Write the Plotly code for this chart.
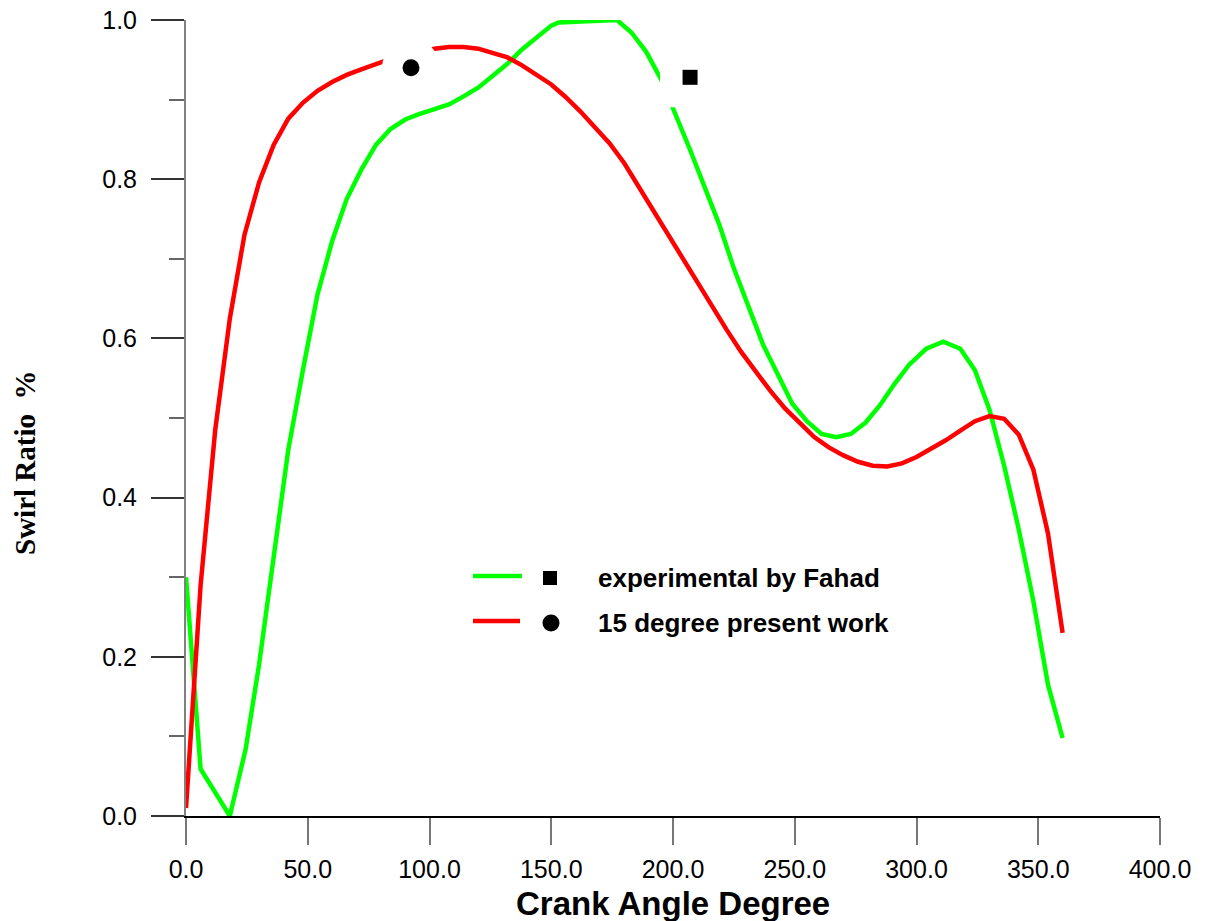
import plotly.graph_objects as go

# ---- data ----
exp_x = [0, 6, 18, 24.5, 30, 36, 42, 48, 54, 60, 66, 72, 78, 84, 90, 96, 102, 108, 114, 120,
         126, 132, 138, 144, 150, 153, 177, 183, 189, 195, 201, 207, 213, 219, 225, 231, 237,
         243, 249, 255, 261, 267, 273, 279, 285, 291, 297, 304, 311, 318, 324, 330, 336, 342,
         348, 354, 360]
exp_y = [0.30, 0.059, 0.0, 0.084, 0.19, 0.325, 0.46, 0.56, 0.655, 0.722, 0.775, 0.812, 0.843,
         0.863, 0.875, 0.882, 0.888, 0.894, 0.904, 0.915, 0.93, 0.945, 0.963, 0.978, 0.993,
         0.997, 1.0, 0.984, 0.96, 0.926, 0.882, 0.837, 0.79, 0.743, 0.688, 0.64, 0.592, 0.555,
         0.518, 0.496, 0.48, 0.476, 0.48, 0.494, 0.516, 0.543, 0.567, 0.587, 0.596, 0.587,
         0.56, 0.51, 0.44, 0.36, 0.27, 0.165, 0.098]

pw_x = [0, 6, 12, 18, 24, 30, 36, 42, 48, 54, 60, 66, 72, 78, 84, 90, 96, 102, 108, 114, 120,
        126, 132, 138, 144, 150, 156, 162, 168, 174, 180, 186, 192, 198, 204, 210, 216, 222,
        228, 234, 240, 246, 252, 258, 264, 270, 276, 282, 288, 294, 300, 306, 312, 318, 324,
        330, 336, 342, 348, 354, 360]
pw_y = [0.01, 0.29, 0.485, 0.625, 0.73, 0.796, 0.843, 0.876, 0.896, 0.911, 0.922, 0.931, 0.938,
        0.945, 0.951, 0.955, 0.96, 0.964, 0.966, 0.966, 0.964, 0.959, 0.953, 0.943, 0.931,
        0.919, 0.903, 0.885, 0.865, 0.845, 0.82, 0.79, 0.762, 0.73, 0.70, 0.67, 0.64, 0.611,
        0.583, 0.558, 0.534, 0.512, 0.494, 0.476, 0.463, 0.453, 0.445, 0.44, 0.439, 0.443,
        0.451, 0.461, 0.472, 0.484, 0.496, 0.5025, 0.499, 0.479, 0.435, 0.355, 0.23]

exp_mark_x = [207]
exp_mark_y = [0.928]
pw_mark_x = [92.4]
pw_mark_y = [0.94]

x_ticks = [0, 50, 100, 150, 200, 250, 300, 350, 400]
y_ticks = [0.0, 0.2, 0.4, 0.6, 0.8, 1.0]

GREEN = "#00FF00"
RED = "#FF0000"
LW = 4.5

fig = go.Figure()
fig.add_trace(go.Scatter(x=exp_x, y=exp_y, mode="lines",
                         line=dict(color=GREEN, width=LW), showlegend=False))
fig.add_trace(go.Scatter(x=pw_x, y=pw_y, mode="lines",
                         line=dict(color=RED, width=LW), showlegend=False))
# white halos around symbols
fig.add_trace(go.Scatter(x=exp_mark_x, y=exp_mark_y, mode="markers",
                         marker=dict(symbol="square", size=60, color="white"),
                         showlegend=False, cliponaxis=False))
fig.add_trace(go.Scatter(x=pw_mark_x, y=pw_mark_y, mode="markers",
                         marker=dict(symbol="circle", size=58, color="white"),
                         showlegend=False, cliponaxis=False))
fig.add_trace(go.Scatter(x=exp_mark_x, y=exp_mark_y, mode="markers",
                         marker=dict(symbol="square", size=15, color="black"),
                         showlegend=False))
fig.add_trace(go.Scatter(x=pw_mark_x, y=pw_mark_y, mode="markers",
                         marker=dict(symbol="circle", size=17, color="black"),
                         showlegend=False))

tickfont = dict(family="Liberation Sans, Arial, sans-serif", size=25, color="black")

# page body has an 8px margin, so the figure is drawn 8px right/down
fig.update_layout(
    width=1202, height=913,
    margin=dict(l=178, r=50, t=12, b=105),
    paper_bgcolor="white", plot_bgcolor="white",
    showlegend=False,
    xaxis=dict(range=[0, 400], tickvals=x_ticks,
               ticktext=[f"{v:.1f}" for v in x_ticks],
               showline=True, linecolor="black", linewidth=1.5,
               ticks="outside", ticklen=27, tickwidth=2, tickcolor="#777777",
               ticklabelstandoff=3, automargin=False, ticklabeloverflow="allow",
               showgrid=False, zeroline=False, tickfont=tickfont),
    yaxis=dict(range=[0, 1.0], tickvals=y_ticks,
               ticktext=[f"{v:.1f}" for v in y_ticks],
               showline=True, linecolor="#808080", linewidth=2,
               ticks="outside", ticklen=33, tickwidth=1.5, tickcolor="#333333",
               minor=dict(dtick=0.1, ticks="outside", ticklen=15, tickwidth=1.5,
                          tickcolor="#666666"),
               ticklabelstandoff=9, automargin=False, ticklabeloverflow="allow",
               showgrid=False, zeroline=False, tickfont=tickfont),
)

def px_x(p):
    return (p - 186) / 974.0

def px_y(p):
    return (816 - p) / 796.0

# axis titles
fig.add_annotation(text="<b>Crank Angle Degree</b>", xref="paper", yref="paper",
                   x=px_x(673), y=px_y(903), xanchor="center", yanchor="middle",
                   showarrow=False,
                   font=dict(family="Liberation Sans, Arial, sans-serif", size=33, color="black"))
fig.add_annotation(text="<b>Swirl Ratio  %</b>", xref="paper", yref="paper",
                   x=px_x(25), y=px_y(463), xanchor="center", yanchor="middle",
                   textangle=-90, showarrow=False,
                   font=dict(family="Liberation Serif, Times New Roman, serif", size=29, color="black"))

# manual legend
leg_font = dict(family="Liberation Sans, Arial, sans-serif", size=26, color="black")
fig.add_shape(type="line", xref="paper", yref="paper",
              x0=px_x(473), x1=px_x(522), y0=px_y(576), y1=px_y(576),
              line=dict(color=GREEN, width=LW))
fig.add_shape(type="line", xref="paper", yref="paper",
              x0=px_x(473), x1=px_x(520), y0=px_y(621), y1=px_y(621),
              line=dict(color=RED, width=LW))
fig.add_shape(type="rect", xref="paper", yref="paper",
              xsizemode="pixel", ysizemode="pixel",
              xanchor=px_x(550), yanchor=px_y(578),
              x0=-7, x1=7, y0=-7, y1=7, fillcolor="black", line=dict(width=0))
fig.add_shape(type="circle", xref="paper", yref="paper",
              xsizemode="pixel", ysizemode="pixel",
              xanchor=px_x(551), yanchor=px_y(623),
              x0=-8.5, x1=8.5, y0=-8.5, y1=8.5, fillcolor="black", line=dict(width=0))
fig.add_annotation(text="<b>experimental by Fahad</b>", xref="paper", yref="paper",
                   x=px_x(596), y=px_y(578), xanchor="left", yanchor="middle",
                   showarrow=False, font=leg_font)
fig.add_annotation(text="<b>15 degree present work</b>", xref="paper", yref="paper",
                   x=px_x(596), y=px_y(623), xanchor="left", yanchor="middle",
                   showarrow=False, font=leg_font)

fig.write_html("out.html")
